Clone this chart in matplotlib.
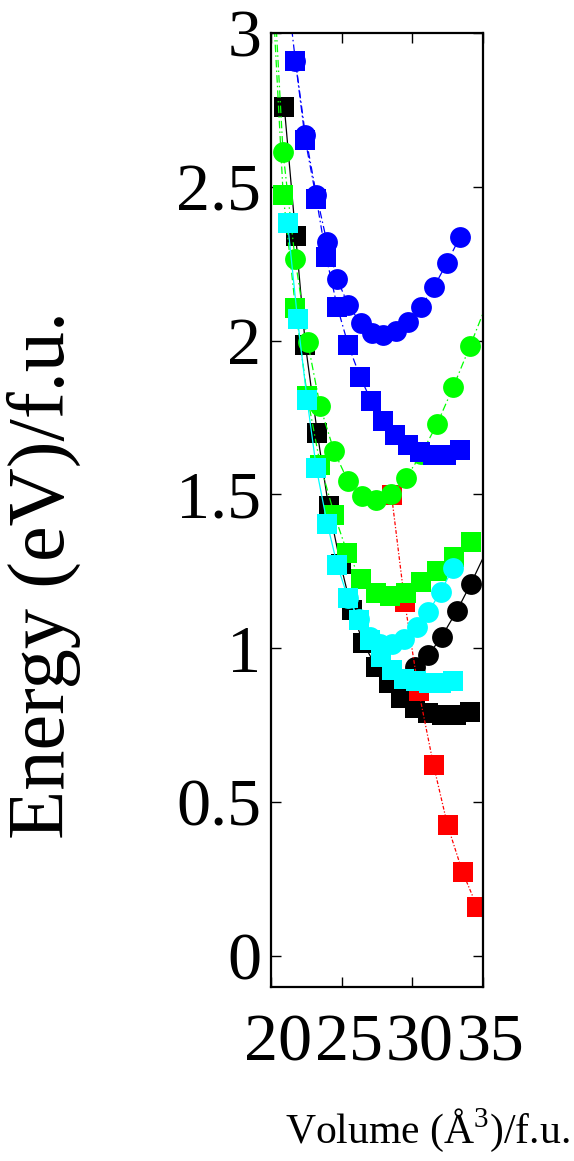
import matplotlib
matplotlib.use('Agg')
import matplotlib.pyplot as plt
from matplotlib.transforms import ScaledTranslation

plt.rcParams['font.family'] = ['Liberation Serif', 'DejaVu Serif']
plt.rcParams['mathtext.fontset'] = 'custom'
plt.rcParams['mathtext.rm'] = 'Liberation Serif'

# black squares
blk_sq_x = [20.94, 21.75, 22.43, 23.28, 24.07, 24.92, 25.71, 26.52, 27.45, 28.37,
            29.22, 30.21, 31.13, 32.10, 33.10, 34.10]
blk_sq_y = [2.761, 2.339, 1.987, 1.699, 1.461, 1.274, 1.125, 1.017, 0.939, 0.887,
            0.838, 0.806, 0.790, 0.783, 0.783, 0.793]
# black circles
blk_ci_x = [30.19, 31.14, 32.08, 33.14, 34.13, 36.00]
blk_ci_y = [0.940, 0.978, 1.038, 1.121, 1.209, 1.390]
# red squares
red_x = [28.53, 29.46, 30.45, 31.50, 32.49, 33.55, 34.60]
red_y = [1.497, 1.150, 0.861, 0.620, 0.425, 0.273, 0.158]
# green squares
grn_sq_x = [19.80, 20.86, 21.73, 22.57, 23.49, 24.49, 25.41, 26.39, 27.45, 28.44,
            29.58, 30.64, 31.78, 32.92, 34.12]
grn_sq_y = [3.400, 2.475, 2.107, 1.819, 1.595, 1.433, 1.309, 1.226, 1.181, 1.169,
            1.181, 1.215, 1.250, 1.296, 1.347]
# green circles
grn_ci_x = [19.80, 20.85, 21.70, 22.60, 23.47, 24.46, 25.43, 26.42, 27.43, 28.49,
            29.55, 30.62, 31.75, 32.90, 34.08, 36.00]
grn_ci_y = [3.500, 2.613, 2.267, 1.994, 1.788, 1.641, 1.545, 1.495, 1.482, 1.501,
            1.554, 1.630, 1.729, 1.850, 1.982, 2.205]
# blue squares
blu_sq_x = [21.00, 21.73, 22.43, 23.21, 23.91, 24.69, 25.47, 26.32, 27.10, 27.94,
            28.80, 29.72, 30.57, 31.49, 32.41, 33.40]
blu_sq_y = [3.200, 2.908, 2.651, 2.461, 2.271, 2.110, 1.985, 1.881, 1.803, 1.738,
            1.692, 1.660, 1.639, 1.629, 1.629, 1.643]
# blue circles
blu_ci_x = [21.73, 22.43, 23.21, 23.96, 24.69, 25.47, 26.35, 27.12, 27.95, 28.82,
            29.72, 30.60, 31.51, 32.43, 33.38]
blu_ci_y = [2.910, 2.669, 2.474, 2.320, 2.199, 2.116, 2.056, 2.026, 2.018, 2.031,
            2.061, 2.110, 2.173, 2.251, 2.338]
# cyan squares
cyn_sq_x = [21.17, 21.88, 22.56, 23.21, 23.98, 24.69, 25.46, 26.25, 27.03, 27.80,
            28.59, 29.39, 30.29, 31.16, 32.03, 32.90]
cyn_sq_y = [2.384, 2.069, 1.806, 1.585, 1.405, 1.270, 1.162, 1.091, 1.026, 0.972,
            0.928, 0.900, 0.893, 0.887, 0.887, 0.893]
# cyan circles
cyn_ci_x = [25.46, 26.25, 27.00, 27.71, 28.54, 29.41, 30.31, 31.13, 32.00, 32.90]
cyn_ci_y = [1.165, 1.095, 1.038, 1.014, 1.014, 1.031, 1.070, 1.117, 1.184, 1.262]

x_ticks = [20, 25, 30, 35]
y_ticks = [0, 0.5, 1, 1.5, 2, 2.5, 3]
y_tick_labels = ['0', '0.5', '1', '1.5', '2', '2.5', '3']

dashdot = (0, (6, 2.5, 1.2, 2.5))
reddash = (0, (3, 1.5, 1, 1.5))

fig = plt.figure(figsize=(5.74, 11.61), dpi=100)
ax = fig.add_axes([271 / 574, 1 - 986.7 / 1161, 212 / 574, 953.7 / 1161])

series = [
    (blk_sq_x, blk_sq_y, 's', '#000000', '-'),
    (blk_ci_x, blk_ci_y, 'o', '#000000', '-'),
    (red_x, red_y, 's', '#ff0000', reddash),
    (grn_sq_x, grn_sq_y, 's', '#00ff00', dashdot),
    (grn_ci_x, grn_ci_y, 'o', '#00ff00', dashdot),
    (blu_sq_x, blu_sq_y, 's', '#0000ff', dashdot),
    (blu_ci_x, blu_ci_y, 'o', '#0000ff', dashdot),
    (cyn_sq_x, cyn_sq_y, 's', '#00ffff', '-'),
    (cyn_ci_x, cyn_ci_y, 'o', '#00ffff', '-'),
]
for xs, ys, mk, col, ls in series:
    ax.plot(xs, ys, color=col, linestyle=ls, linewidth=0.9, marker=mk,
            markersize=15, markeredgewidth=0)

ax.set_xlim(20, 35)
ax.set_ylim(-0.1, 3)
ax.set_xticks(x_ticks)
ax.set_xticklabels([str(t) for t in x_ticks])
ax.set_yticks(y_ticks)
ax.set_yticklabels(y_tick_labels)
ax.tick_params(direction='in', length=7.5, width=1, top=True, right=True,
               labelsize=49)
ax.tick_params(axis='x', pad=19)
ax.tick_params(axis='y', pad=7)
for sp in ax.spines.values():
    sp.set_linewidth(1.6)

# gnuplot puts the x labels a little right of their ticks
shift = ScaledTranslation(7 / 100, 0, fig.dpi_scale_trans)
for lbl in ax.get_xticklabels():
    lbl.set_transform(lbl.get_transform() + shift)

fig.text(44 / 574, 1 - 575 / 1161, 'Energy (eV)/f.u.', rotation=90,
         ha='center', va='center', fontsize=58)
fig.text(427 / 574, 1 - 1130 / 1161, r'Volume (Å$^3$)/f.u.',
         ha='center', va='center', fontsize=30)

fig.savefig('out.png', dpi=100)
